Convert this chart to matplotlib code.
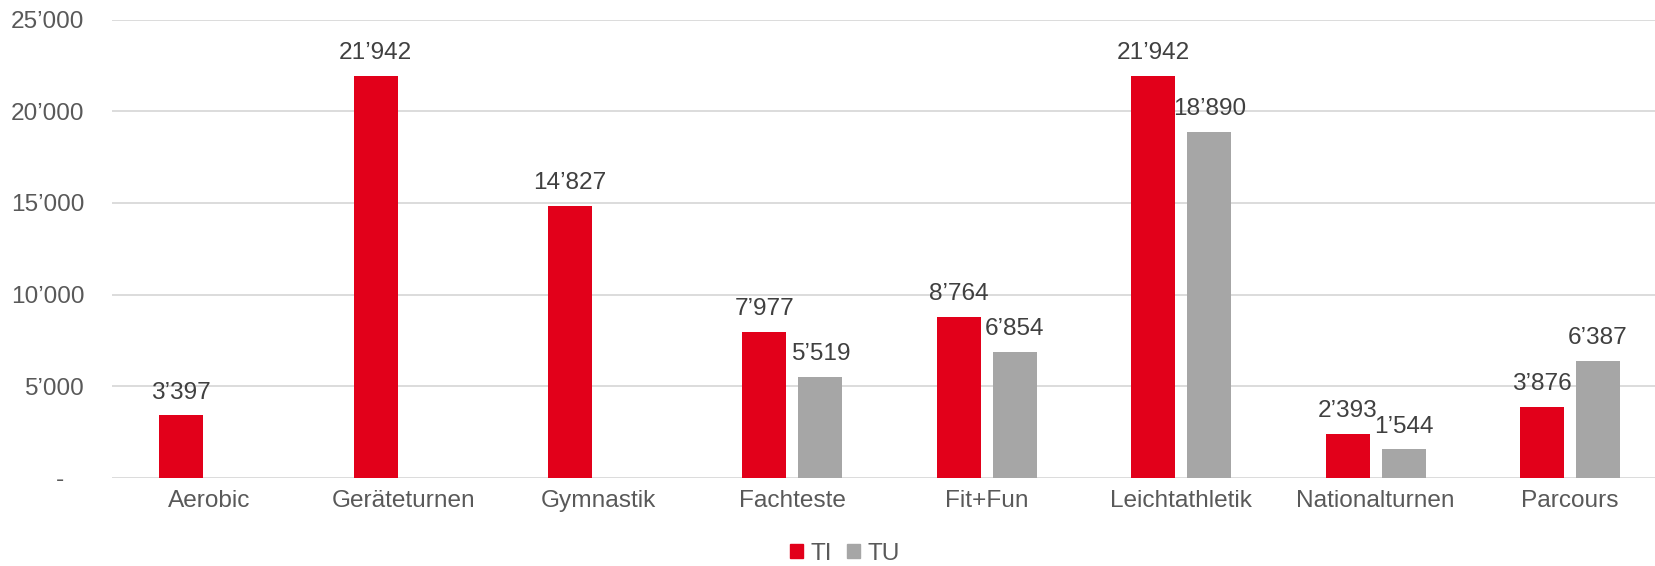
import numpy as np
import matplotlib.pyplot as plt
from matplotlib.patches import Patch

plt.rcParams['font.family'] = ['Liberation Sans', 'DejaVu Sans']

# data
categories = ["Aerobic", "Geräteturnen", "Gymnastik", "Fachteste", "Fit+Fun",
              "Leichtathletik", "Nationalturnen", "Parcours"]
ti = [3397, 21942, 14827, 7977, 8764, 21942, 2393, 3876]
tu = [None, None, None, 5519, 6854, 18890, 1544, 6387]
y_ticks = [0, 5000, 10000, 15000, 20000, 25000]

red = "#E2001A"
grey = "#A6A6A6"
label_col = "#404040"
tick_col = "#595959"
fs = 17.6


def fmt(v):
    return "{:,}".format(v).replace(",", "\u2019")


fig = plt.figure(figsize=(16.55, 5.66), dpi=100)
ax = fig.add_axes([112 / 1655, 0.156, 1543 / 1655, 0.8092])

x = np.arange(len(categories))
w = 0.2263
off = 0.144

for i in range(len(categories)):
    for val, dx, col in ((ti[i], -off, red), (tu[i], off, grey)):
        if val is None:
            continue
        ax.bar(x[i] + dx, val, width=w, color=col, linewidth=0, zorder=3)
        ax.annotate(fmt(val), (x[i] + dx, val), xytext=(0, 8.5),
                    textcoords="offset points", ha="center", va="bottom",
                    fontsize=fs, color=label_col)

ax.set_xlim(-0.5, -0.5 + 1543 / 194.4)
ax.set_ylim(0, 25000)
ax.set_yticks(y_ticks)
ax.set_yticklabels(["-   "] + [fmt(v) for v in y_ticks[1:]])
ax.set_xticks(x)
ax.set_xticklabels(categories)
ax.tick_params(axis="both", length=0, labelsize=fs, labelcolor=tick_col)
ax.tick_params(axis="y", pad=20)
ax.tick_params(axis="x", pad=9)
ax.grid(axis="y", color="#D9D9D9", linewidth=1.3, zorder=0)
for s in ax.spines.values():
    s.set_visible(False)

handles = [Patch(color=red, label="TI"), Patch(color=grey, label="TU")]
fig.legend(handles=handles, loc="center", bbox_to_anchor=(0.5106, 0.022),
           ncol=2, frameon=False, fontsize=fs, labelcolor=tick_col,
           handlelength=0.55, handleheight=0.55, handletextpad=0.3,
           columnspacing=0.6)

fig.savefig("out.png", dpi=100)
